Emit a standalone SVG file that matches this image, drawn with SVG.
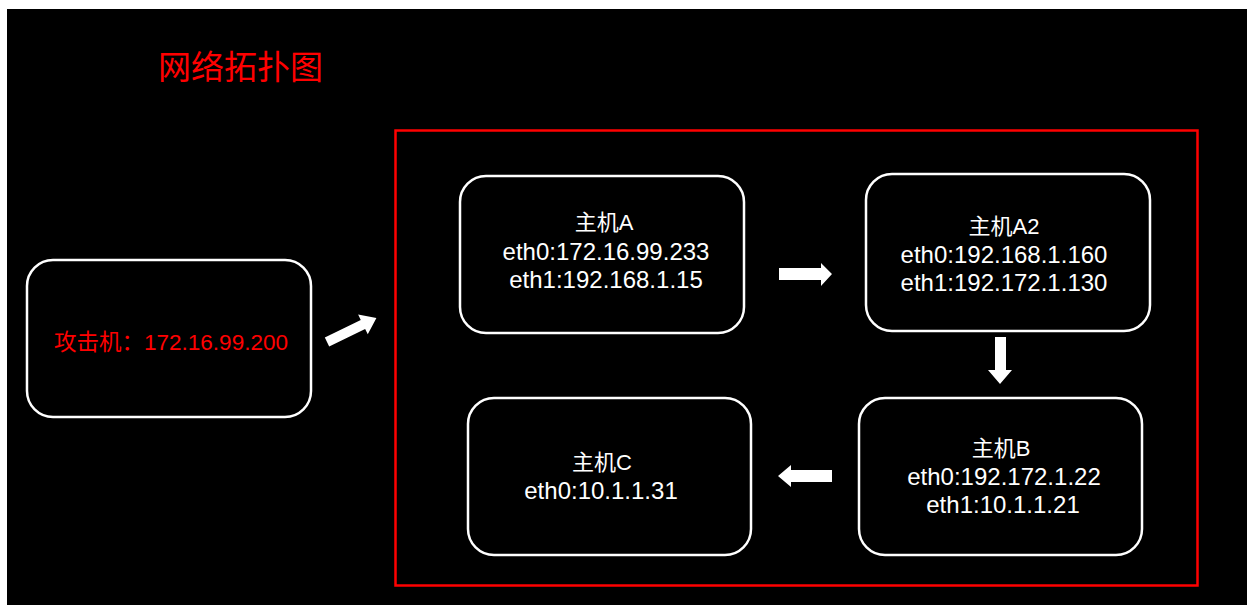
<svg xmlns="http://www.w3.org/2000/svg" width="1247" height="605" viewBox="0 0 1247 605">
<style>
.node{fill:#000;stroke:#fff;stroke-width:2.5}
.t{font-family:"Liberation Sans","Noto Sans CJK SC",sans-serif;font-size:24px;fill:#fff;text-anchor:middle}
.h{font-size:22px}
.arr{fill:#fff}
</style>
<rect x="0" y="0" width="1247" height="605" fill="#fff"/>
<rect x="7" y="9" width="1240" height="596" fill="#000"/>
<text x="158" y="79" style="font-family:'Noto Sans CJK SC',sans-serif;font-size:33px;fill:#ff0000">网络拓扑图</text>
<rect id="frame" x="395.5" y="130.5" width="802" height="455" fill="none" stroke="#ff0000" stroke-width="2.5"/>
<g id="attacker">
<rect class="node" x="27" y="260" width="284" height="157" rx="26"/>
<text class="t" x="171" y="350" style="font-size:22.5px;fill:#ff0000">攻击机：172.16.99.200</text>
</g>
<g id="hostA">
<rect class="node" x="460" y="176" width="284" height="157" rx="26"/>
<text class="t h" x="604" y="230">主机A</text>
<text class="t" x="606" y="260">eth0:172.16.99.233</text>
<text class="t" x="606" y="288">eth1:192.168.1.15</text>
</g>
<g id="hostA2">
<rect class="node" x="866" y="174" width="284" height="157" rx="26"/>
<text class="t h" x="1004" y="234">主机A2</text>
<text class="t" x="1004" y="263">eth0:192.168.1.160</text>
<text class="t" x="1004" y="291">eth1:192.172.1.130</text>
</g>
<g id="hostB">
<rect class="node" x="859" y="398" width="283" height="157" rx="26"/>
<text class="t h" x="1001" y="456">主机B</text>
<text class="t" x="1004" y="485">eth0:192.172.1.22</text>
<text class="t" x="1003" y="513">eth1:10.1.1.21</text>
</g>
<g id="hostC">
<rect class="node" x="468" y="398" width="283" height="157" rx="26"/>
<text class="t h" x="602" y="470">主机C</text>
<text class="t" x="601" y="499">eth0:10.1.1.31</text>
</g>
<g id="connectors">
<polygon class="arr" transform="translate(327,342) rotate(-26)" points="0,-5 40,-5 40,-11 55,0 40,11 40,5 0,5"/>
<polygon class="arr" points="779,268 821,268 821,263 832,274 821,286 821,280 779,280"/>
<polygon class="arr" points="995,337 1006,337 1006,370 1012,370 1000,384 988,370 995,370"/>
<polygon class="arr" points="832,470 791,470 791,465 778,476 791,487 791,482 832,482"/>
</g>
</svg>
